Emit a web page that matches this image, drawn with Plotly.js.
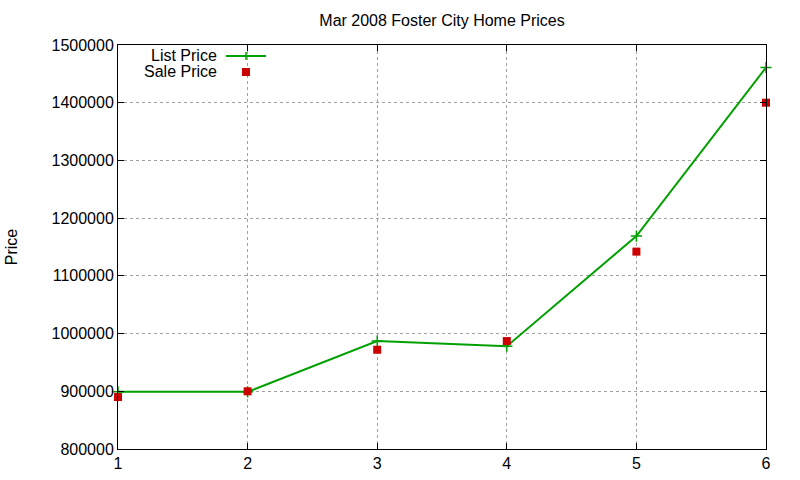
<!DOCTYPE html>
<html>
<head>
<meta charset="utf-8">
<script src="https://cdn.plot.ly/plotly-3.0.1.min.js"></script>
<style>
  body { margin: 0; background: #fff; }
  #chart { width: 800px; height: 480px; }
</style>
</head>
<body>
<div id="chart"></div>
<script>
// sale number along the x axis
var saleIndex = [1, 2, 3, 4, 5, 6];
var listPrice = [899000, 899000, 987000, 978000, 1169000, 1461000];
var salePrice = [890000, 900000, 972000, 987000, 1142000, 1400000];

var yTicks = [800000, 900000, 1000000, 1100000, 1200000, 1300000, 1400000, 1500000];

var green = 'rgb(0,160,0)';
var red = 'rgb(204,0,0)';

var traceList = {
  x: saleIndex,
  y: listPrice,
  name: 'List Price',
  mode: 'lines+markers',
  type: 'scatter',
  line: { color: green, width: 2 },
  marker: { symbol: 'cross-thin', size: 8, color: green, line: { color: green, width: 1.5 } },
  cliponaxis: false
};

var traceSale = {
  x: saleIndex,
  y: salePrice,
  name: 'Sale Price',
  mode: 'markers',
  type: 'scatter',
  marker: { symbol: 'square', size: 8, color: red },
  cliponaxis: false
};

var font = { family: 'Liberation Sans, Arial, sans-serif', size: 16, color: '#000' };

var layout = {
  width: 800,
  height: 480,
  margin: { l: 118, r: 34, t: 45, b: 31 },
  paper_bgcolor: '#fff',
  plot_bgcolor: '#fff',
  font: font,
  showlegend: false,
  title: {
    text: 'Mar 2008 Foster City Home Prices',
    font: font,
    x: 0.5525, xanchor: 'center', y: 0.957, yanchor: 'middle'
  },
  xaxis: {
    range: [1, 6],
    tickvals: saleIndex,
    ticks: 'inside', ticklen: 6, tickcolor: '#000',
    showline: true, linecolor: '#000', linewidth: 1, mirror: 'ticks',
    showgrid: true, gridcolor: '#a0a0a0', griddash: 'dot', gridwidth: 1,
    zeroline: false,
    tickfont: font
  },
  yaxis: {
    range: [800000, 1500000],
    tickvals: yTicks,
    ticktext: yTicks.map(String),
    ticks: 'inside', ticklen: 6, tickcolor: '#000',
    showline: true, linecolor: '#000', linewidth: 1, mirror: 'ticks',
    showgrid: true, gridcolor: '#a0a0a0', griddash: 'dot', gridwidth: 1,
    zeroline: false,
    tickfont: font,
    title: { text: 'Price', font: font, standoff: 29 }
  },
  // legend drawn by hand: text on the left, sample on the right, like gnuplot
  annotations: [
    { xref: 'paper', yref: 'paper', x: (218 - 118) / 648, y: (449 - 55) / 404,
      xanchor: 'right', yanchor: 'middle', text: 'List Price', showarrow: false,
      font: font, height: 16, borderpad: 0 },
    { xref: 'paper', yref: 'paper', x: (218 - 118) / 648, y: (449 - 71) / 404,
      xanchor: 'right', yanchor: 'middle', text: 'Sale Price', showarrow: false,
      font: font, height: 16, borderpad: 0 }
  ],
  shapes: [
    { type: 'line', xref: 'paper', yref: 'paper',
      x0: (226 - 118) / 648, x1: (266 - 118) / 648, y0: (449 - 56) / 404, y1: (449 - 56) / 404,
      line: { color: green, width: 2 } },
    { type: 'line', xref: 'paper', yref: 'paper',
      x0: (246 - 118) / 648, x1: (246 - 118) / 648, y0: (449 - 52) / 404, y1: (449 - 60) / 404,
      line: { color: green, width: 1.5 } },
    { type: 'rect', xref: 'paper', yref: 'paper',
      x0: (242 - 118) / 648, x1: (250 - 118) / 648, y0: (449 - 68) / 404, y1: (449 - 76) / 404,
      fillcolor: red, line: { width: 0 } }
  ]
};

Plotly.newPlot('chart', [traceList, traceSale], layout, { displayModeBar: false, staticPlot: true });
</script>
</body>
</html>
